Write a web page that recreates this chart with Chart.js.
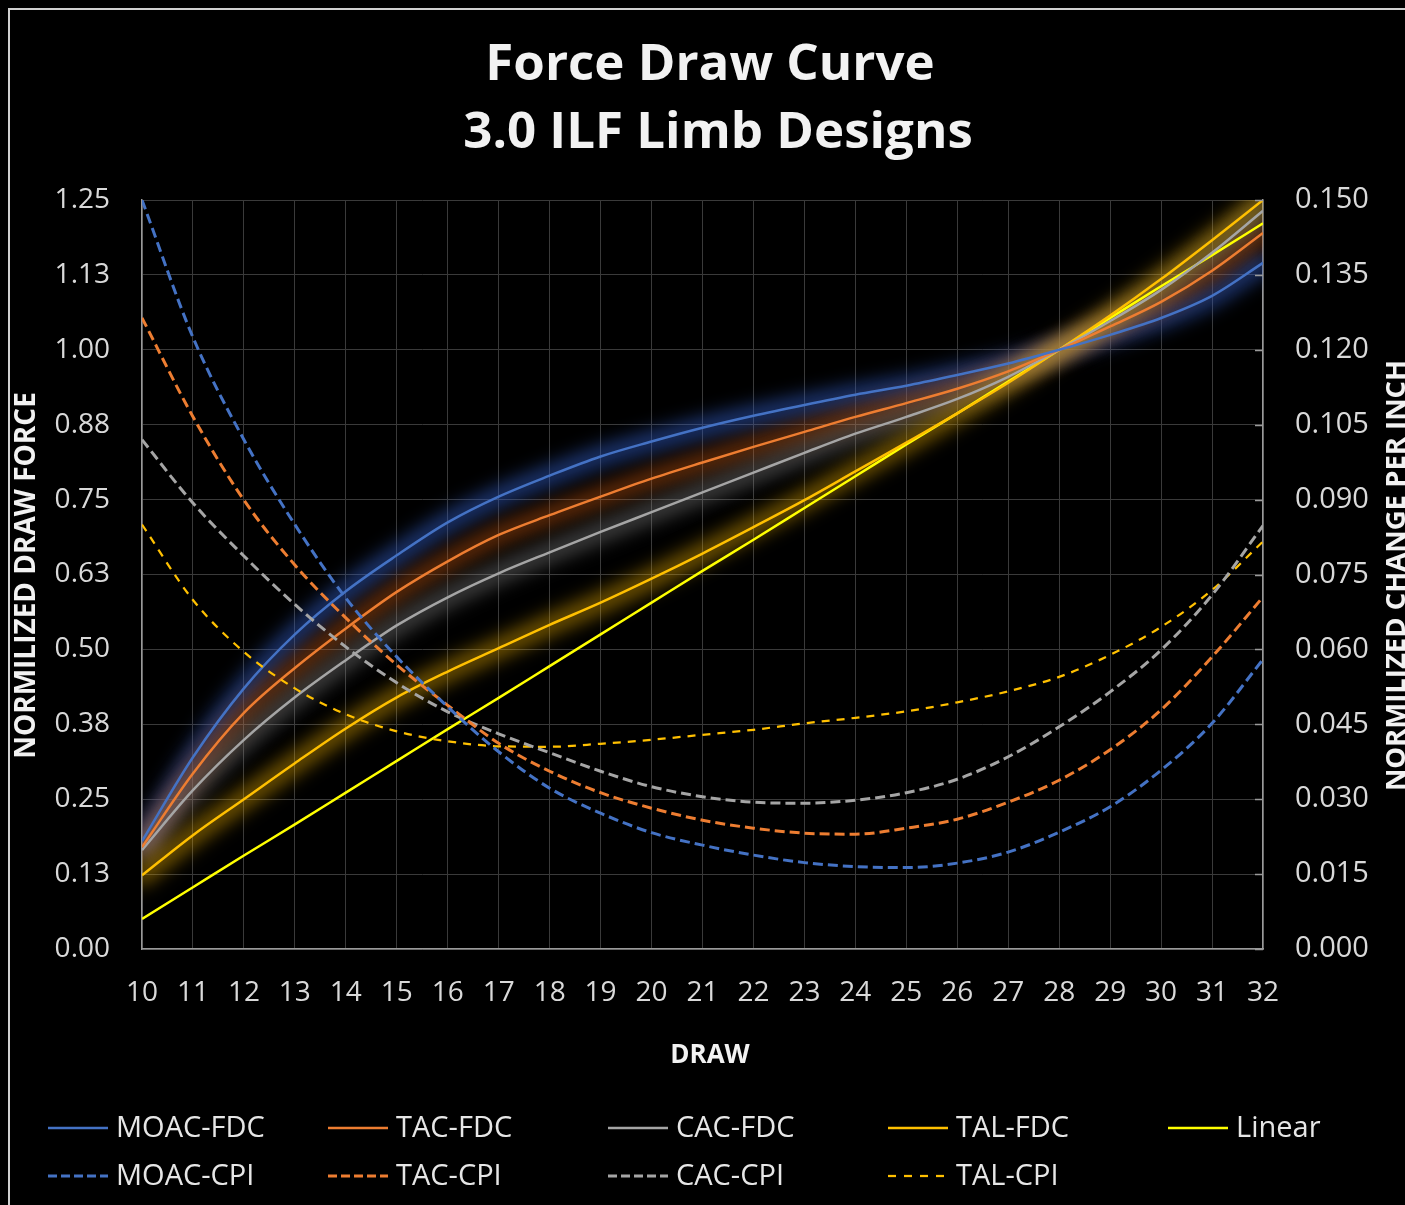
<!DOCTYPE html>
<html>
<head>
<meta charset="utf-8">
<title>Force Draw Curve</title>
<script src="https://cdn.jsdelivr.net/npm/chart.js@4.4.1/dist/chart.umd.min.js"></script>
<style>
  html, body { margin: 0; padding: 0; background: #000; }
  #wrap { width: 1405px; height: 1205px; }
</style>
</head>
<body>
<div id="wrap"><canvas id="forceChart" width="1405" height="1205"></canvas></div>
<script>
/***********************
 * 1. DATA
 ***********************/
const draws = [10, 11, 12, 13, 14, 15, 16, 17, 18, 19, 20, 21, 22, 23, 24, 25, 26, 27, 28, 29, 30, 31, 32];

// normalized draw force (left axis)
const moacFdc = [0.180, 0.320, 0.435, 0.525, 0.597, 0.657, 0.712, 0.755, 0.790, 0.822, 0.847, 0.870, 0.890, 0.908, 0.925, 0.940, 0.958, 0.977, 1.000, 1.025, 1.053, 1.090, 1.145];
const tacFdc  = [0.170, 0.293, 0.394, 0.469, 0.535, 0.596, 0.647, 0.691, 0.724, 0.755, 0.785, 0.812, 0.838, 0.863, 0.888, 0.911, 0.935, 0.964, 1.000, 1.039, 1.080, 1.132, 1.195];
const cacFdc  = [0.165, 0.265, 0.349, 0.420, 0.482, 0.540, 0.587, 0.627, 0.662, 0.696, 0.729, 0.762, 0.795, 0.828, 0.860, 0.888, 0.918, 0.955, 1.000, 1.048, 1.100, 1.162, 1.232];
const talFdc  = [0.123, 0.190, 0.250, 0.310, 0.368, 0.420, 0.463, 0.502, 0.541, 0.578, 0.618, 0.660, 0.704, 0.749, 0.797, 0.845, 0.894, 0.945, 1.000, 1.057, 1.118, 1.183, 1.250];
const linear  = [0.050, 0.103, 0.156, 0.208, 0.261, 0.314, 0.367, 0.419, 0.472, 0.525, 0.578, 0.631, 0.683, 0.736, 0.789, 0.842, 0.894, 0.947, 1.000, 1.053, 1.106, 1.158, 1.211];

// normalized change per inch (right axis)
const moacCpi = [0.1500, 0.1225, 0.1020, 0.0850, 0.0703, 0.0585, 0.0485, 0.0395, 0.0322, 0.0272, 0.0233, 0.0208, 0.0188, 0.0173, 0.0165, 0.0163, 0.0172, 0.0194, 0.0234, 0.0285, 0.0358, 0.0452, 0.0580];
const tacCpi  = [0.1264, 0.1066, 0.0899, 0.0769, 0.0663, 0.0569, 0.0488, 0.0412, 0.0356, 0.0313, 0.0282, 0.0258, 0.0242, 0.0232, 0.0230, 0.0242, 0.0260, 0.0294, 0.0338, 0.0399, 0.0479, 0.0585, 0.0705];
const cacCpi  = [0.1020, 0.0893, 0.0787, 0.0690, 0.0605, 0.0533, 0.0475, 0.0431, 0.0393, 0.0356, 0.0325, 0.0305, 0.0294, 0.0292, 0.0298, 0.0313, 0.0340, 0.0385, 0.0445, 0.0515, 0.0599, 0.0709, 0.0848];
const talCpi  = [0.0850, 0.0699, 0.0595, 0.0522, 0.0470, 0.0436, 0.0416, 0.0406, 0.0405, 0.0411, 0.0419, 0.0429, 0.0439, 0.0452, 0.0463, 0.0476, 0.0494, 0.0516, 0.0545, 0.0589, 0.0645, 0.0719, 0.0816];

const forceTicks = ["0.00", "0.13", "0.25", "0.38", "0.50", "0.63", "0.75", "0.88", "1.00", "1.13", "1.25"];
const cpiTicks = ["0.000", "0.015", "0.030", "0.045", "0.060", "0.075", "0.090", "0.105", "0.120", "0.135", "0.150"];

const titleLines = ["Force Draw Curve", "3.0 ILF Limb Designs"];

/***********************
 * 2. STYLE
 ***********************/
const FONT = "'Open Sans', 'DejaVu Sans', sans-serif";
const TEXT = "#d9d9d9";
const TITLE = "#f2f2f2";
const GRID = "#3a3a3a";
const AXIS = "#9a9a9a";

const BLUE = "#4472c4";
const ORANGE = "#ed7d31";
const GRAY = "#a5a5a5";
const GOLD = "#ffc000";
const YELLOW = "#ffff00";

function pts(values) {
  return values.map((v, i) => ({ x: draws[i], y: v }));
}

function solid(label, values, color, glow) {
  return {
    label, data: pts(values), yAxisID: "y",
    borderColor: color, borderWidth: 2.5, glow,
    order: 1
  };
}

function dashed(label, values, color, width, dash) {
  return {
    label, data: pts(values), yAxisID: "y2",
    borderColor: color, borderWidth: width, borderDash: dash,
    order: 0
  };
}

const datasets = [
  solid("MOAC-FDC", moacFdc, BLUE, "rgba(48,90,190,0.6)"),
  solid("TAC-FDC", tacFdc, ORANGE, "rgba(200,90,20,0.5)"),
  solid("CAC-FDC", cacFdc, GRAY, "rgba(150,150,150,0.42)"),
  solid("TAL-FDC", talFdc, GOLD, "rgba(230,170,0,0.5)"),
  solid("Linear", linear, YELLOW, null),
  dashed("MOAC-CPI", moacCpi, BLUE, 3, [10, 5]),
  dashed("TAC-CPI", tacCpi, ORANGE, 3, [10, 5]),
  dashed("CAC-CPI", cacCpi, GRAY, 3, [10, 5]),
  dashed("TAL-CPI", talCpi, GOLD, 2.25, [8, 7])
];

/***********************
 * 3. PLUGINS
 ***********************/
// black page with the light frame of the original
const frame = {
  id: "frame",
  beforeDraw(chart) {
    const ctx = chart.ctx;
    ctx.save();
    ctx.fillStyle = "#000";
    ctx.fillRect(0, 0, chart.width, chart.height);
    ctx.strokeStyle = "#d0d0d0";
    ctx.lineWidth = 2;
    ctx.strokeRect(9, 9, chart.width + 20, chart.height + 20);
    ctx.restore();
  }
};

// soft glow under the force curves
const glow = {
  id: "glow",
  beforeDatasetsDraw(chart) {
    const ctx = chart.ctx;
    const a = chart.chartArea;
    ctx.save();
    ctx.beginPath();
    ctx.rect(a.left, a.top, a.right - a.left, a.bottom - a.top);
    ctx.clip();
    ctx.filter = "blur(9px)";
    ctx.lineCap = "round";
    ctx.lineJoin = "round";
    chart.data.datasets.forEach((ds, i) => {
      if (!ds.glow) return;
      const line = chart.getDatasetMeta(i).dataset;
      line.updateControlPoints(a, "x");
      ctx.beginPath();
      line.path(ctx);
      ctx.lineWidth = 20;
      ctx.strokeStyle = ds.glow;
      ctx.stroke();
    });
    ctx.restore();
  }
};

// titles, inner tick marks on the right axis, legend grid
const extras = {
  id: "extras",
  afterDraw(chart) {
    const ctx = chart.ctx;
    const y2 = chart.scales.y2;
    const a = chart.chartArea;
    const midY = (a.top + a.bottom) / 2;

    ctx.save();
    ctx.strokeStyle = AXIS;
    ctx.lineWidth = 1.5;
    y2.ticks.forEach(t => {
      const py = Math.round(y2.getPixelForValue(t.value)) + 0.5;
      ctx.beginPath();
      ctx.moveTo(a.right - 8, py);
      ctx.lineTo(a.right, py);
      ctx.stroke();
    });
    ctx.restore();

    // chart title
    ctx.save();
    ctx.fillStyle = TITLE;
    ctx.textAlign = "center";
    ctx.textBaseline = "middle";
    ctx.font = "bold 51px " + FONT;
    ctx.fillText(titleLines[0], 710, 65);
    ctx.fillText(titleLines[1], 718, 133);

    // x axis title
    ctx.font = "bold 26px " + FONT;
    ctx.fillText("DRAW", 710, 1056);

    // left axis title
    ctx.save();
    ctx.translate(27, midY + 1);
    ctx.rotate(-Math.PI / 2);
    ctx.font = "bold 28px " + FONT;
    ctx.fillText("NORMILIZED DRAW FORCE", 0, 0);
    ctx.restore();

    // right axis title reads bottom-to-top like the left one
    ctx.translate(1397, midY + 1);
    ctx.rotate(-Math.PI / 2);
    ctx.font = "bold 27.5px " + FONT;
    ctx.fillText("NORMILIZED CHANGE PER INCH", 0, 0);
    ctx.restore();

    // legend: 5 columns, 2 rows
    ctx.save();
    ctx.font = "29px " + FONT;
    ctx.textBaseline = "middle";
    ctx.textAlign = "left";
    chart.data.datasets.forEach((ds, i) => {
      const col = i % 5;
      const row = Math.floor(i / 5);
      const x0 = 48 + col * 280;
      const y0 = 1128 + row * 48;
      const isTal = ds.label === "TAL-CPI";
      ctx.strokeStyle = ds.borderColor;
      ctx.lineWidth = ds.borderDash ? ds.borderWidth : 2.5;
      ctx.setLineDash(ds.borderDash ? (isTal ? [8, 8] : [9, 4]) : []);
      ctx.beginPath();
      ctx.moveTo(x0, y0);
      ctx.lineTo(x0 + (isTal ? 57 : 60), y0);
      ctx.stroke();
      ctx.setLineDash([]);
      ctx.fillStyle = "#e6e6e6";
      ctx.fillText(ds.label, x0 + 68, y0 + 1);
    });
    ctx.restore();
  }
};

/***********************
 * 4. CHART
 ***********************/
Chart.defaults.font.family = FONT;

new Chart(document.getElementById("forceChart"), {
  type: "line",
  data: { datasets },
  options: {
    responsive: false,
    animation: false,
    devicePixelRatio: 1,
    layout: { padding: { top: 200, left: 0, right: 0, bottom: 110 } },
    elements: {
      point: { radius: 0, hoverRadius: 0 },
      line: { cubicInterpolationMode: "monotone", fill: false, borderCapStyle: "butt" }
    },
    plugins: {
      legend: { display: false },
      tooltip: { enabled: false },
      title: { display: false }
    },
    scales: {
      x: {
        type: "linear",
        min: 10,
        max: 32,
        ticks: { stepSize: 1, color: TEXT, font: { size: 28 }, padding: 27 },
        grid: { color: GRID, lineWidth: 1, drawTicks: false },
        border: { color: AXIS, width: 1.5 },
        afterFit: s => { s.height = 146; }
      },
      y: {
        position: "left",
        min: 0,
        max: 1.25,
        ticks: { stepSize: 0.125, color: TEXT, font: { size: 28 }, padding: 32,
                 callback: (v, i) => forceTicks[i] },
        grid: { color: GRID, lineWidth: 1, drawTicks: false },
        border: { color: AXIS, width: 1.5 },
        afterFit: s => { s.width = 142; }
      },
      y2: {
        position: "right",
        min: 0,
        max: 0.15,
        ticks: { stepSize: 0.015, color: TEXT, font: { size: 29 }, padding: 32,
                 callback: (v, i) => cpiTicks[i] },
        grid: { display: false, drawTicks: false },
        border: { color: AXIS, width: 1.5 },
        afterFit: s => { s.width = 142; }
      }
    }
  },
  plugins: [frame, glow, extras]
});
</script>
</body>
</html>
